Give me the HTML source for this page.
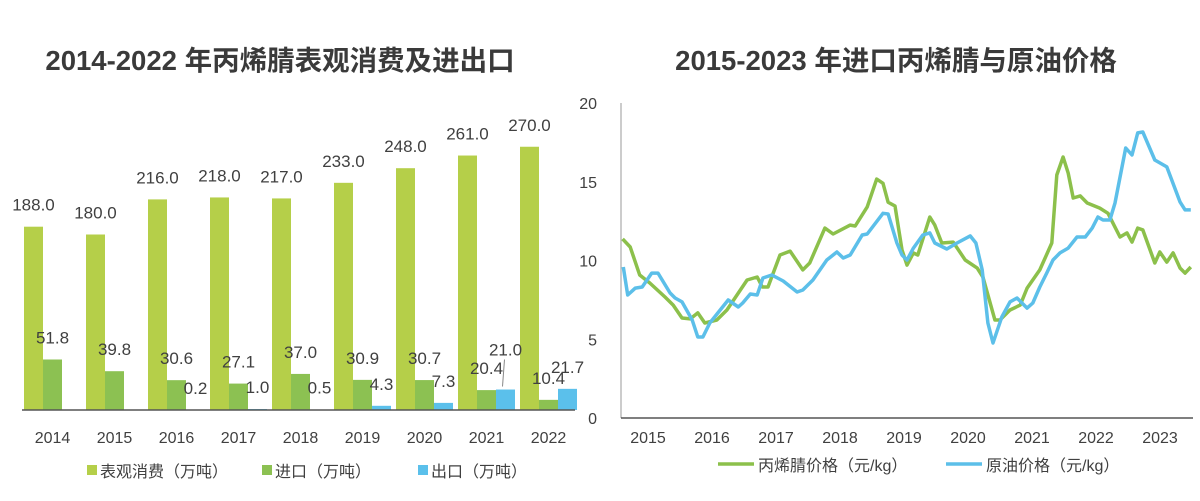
<!DOCTYPE html>
<html><head><meta charset="utf-8"><style>
body{margin:0;background:#fff;width:1200px;height:501px;overflow:hidden;font-family:"Liberation Sans","Noto Sans CJK SC",sans-serif;}
</style></head><body>
<svg id="chart" width="1200" height="501" style="position:absolute;left:0;top:0;font-family:'Liberation Sans','Noto Sans CJK SC',sans-serif">
<text x="280" y="70" text-anchor="middle" font-size="27.5" font-weight="bold" fill="#3a3a3a">2014-2022 年丙烯腈表观消费及进出口</text>
<text x="896" y="70" text-anchor="middle" font-size="27.5" font-weight="bold" fill="#3a3a3a">2015-2023 年进口丙烯腈与原油价格</text>
<g id="left"></g><g id="right"></g>
</svg>
<script>
const years = ['2014','2015','2016','2017','2018','2019','2020','2021','2022'];
const consumption = [188.0,180.0,216.0,218.0,217.0,233.0,248.0,261.0,270.0];
const imports = [51.8,39.8,30.6,27.1,37.0,30.9,30.7,20.4,10.4];
const exports_ = [null,null,0.2,1.0,0.5,4.3,7.3,21.0,21.7];
const greenT = [2015.01,2015.13,2015.28,2015.44,2015.68,2015.81,2015.95,2016.08,2016.20,2016.31,2016.50,2016.66,2016.82,2016.98,2017.14,2017.22,2017.31,2017.50,2017.66,2017.86,2017.97,2018.21,2018.34,2018.61,2018.69,2018.88,2019.03,2019.13,2019.21,2019.32,2019.43,2019.51,2019.61,2019.68,2019.87,2019.95,2020.06,2020.24,2020.43,2020.62,2020.71,2020.90,2020.98,2021.14,2021.30,2021.41,2021.61,2021.80,2021.88,2021.98,2022.06,2022.14,2022.25,2022.36,2022.56,2022.69,2022.88,2022.99,2023.07,2023.16,2023.24,2023.43,2023.51,2023.62,2023.72,2023.83,2023.91,2024.0];
const greenV = [11.37,10.86,9.08,8.57,7.68,7.17,6.35,6.29,6.67,6.03,6.22,6.86,7.81,8.76,8.95,8.32,8.32,10.35,10.6,9.4,9.84,12.06,11.68,12.25,12.19,13.4,15.17,14.9,13.7,13.46,10.67,9.71,10.48,10.35,12.76,12.25,11.11,11.17,10.03,9.52,8.95,6.22,6.22,6.86,7.17,8.25,9.4,11.11,15.43,16.57,15.55,13.97,14.1,13.65,13.33,13.0,11.49,11.75,11.17,12.06,11.94,9.84,10.54,9.9,10.48,9.52,9.2,9.59];
const blueT = [2015.02,2015.09,2015.21,2015.32,2015.47,2015.57,2015.76,2015.84,2015.95,2016.11,2016.20,2016.28,2016.39,2016.68,2016.84,2016.91,2017.03,2017.14,2017.23,2017.37,2017.55,2017.77,2017.86,2018.02,2018.24,2018.40,2018.50,2018.61,2018.80,2018.88,2019.13,2019.21,2019.35,2019.43,2019.51,2019.61,2019.76,2019.87,2019.95,2020.14,2020.30,2020.51,2020.60,2020.70,2020.79,2020.87,2021.01,2021.14,2021.25,2021.41,2021.50,2021.61,2021.72,2021.82,2021.93,2022.06,2022.20,2022.33,2022.44,2022.53,2022.61,2022.72,2022.80,2022.97,2023.07,2023.16,2023.24,2023.43,2023.62,2023.83,2023.91,2024.0];
const blueV = [9.59,7.81,8.25,8.32,9.2,9.2,7.94,7.62,7.37,6.22,5.14,5.14,6.03,7.49,7.05,7.3,7.87,7.81,8.89,9.08,8.7,8.0,8.13,8.76,10.03,10.54,10.16,10.35,11.62,11.68,13.0,12.95,11.11,10.35,10.03,10.79,11.62,11.75,11.11,10.73,11.11,11.56,11.11,9.4,6.03,4.76,6.41,7.37,7.62,6.98,7.3,8.32,9.2,10.03,10.48,10.79,11.49,11.49,12.06,12.76,12.57,12.57,13.65,17.14,16.7,18.1,18.16,16.38,15.94,13.71,13.21,13.21];
const yTicks = [0,5,10,15,20];
const xYears = ['2015','2016','2017','2018','2019','2020','2021','2022','2023'];

const NS='http://www.w3.org/2000/svg';
function mk(p,tag,attrs,txt){const e=document.createElementNS(NS,tag);for(const k in attrs)e.setAttribute(k,attrs[k]);if(txt!==undefined)e.textContent=txt;p.appendChild(e);return e;}
const L=document.getElementById('left'), R=document.getElementById('right');
const base=410, k=0.975, g0=24, step=62, bw=19;
const yB=v=>base-v*k;
const cols=['#b5cf49','#8cc152','#5bc0eb'];
const series=[consumption,imports,exports_];
const names=['consumption','import','export'];
series.forEach((arr,s)=>{arr.forEach((v,i)=>{
 if(v===null) return;
 const x=g0+i*step+s*bw;
 const r=mk(L,'rect',{x:x,y:yB(v),width:bw,height:v*k,fill:cols[s]});
 
 
 let ly=yB(v)-22;
 if(s===2 && i===7){ly=yB(v)-40; const ln=mk(L,'line',{x1:x+bw/2-3,y1:yB(v)-3,x2:x+bw/2-1,y2:ly+10,stroke:'#888','stroke-width':1});
  
  }
 const t=mk(L,'text',{x:x+bw/2,y:ly+6,'text-anchor':'middle','font-size':17,fill:'#404040'},v.toFixed(1));
 
 
});});
const ax=mk(L,'line',{x1:22,y1:base,x2:575,y2:base,stroke:'#555','stroke-width':1.5});


years.forEach((y,i)=>{const t=mk(L,'text',{x:g0+i*step+28.5,y:443,'text-anchor':'middle','font-size':16,fill:'#404040'},y);
 
 });
const legL=[['表观消费（万吨）',87],['进口（万吨）',262],['出口（万吨）',418]];
legL.forEach((l,i)=>{const g=mk(L,'g',{});
 
 
 mk(g,'rect',{x:l[1],y:465,width:10,height:10,fill:cols[i]});
 mk(g,'text',{x:l[1]+13,y:477,'font-size':16,fill:'#404040'},l[0]);});
const x0=622, pxYr=63.2, y0=418, ky=15.75;
const xs=t=>x0+(t-2015)*pxYr, ys=v=>y0-v*ky;
const yax=mk(R,'line',{x1:621,y1:103,x2:621,y2:y0,stroke:'#999','stroke-width':1});


const xax=mk(R,'line',{x1:621,y1:y0,x2:1193,y2:y0,stroke:'#555','stroke-width':1.5});


yTicks.forEach(v=>{const t=mk(R,'text',{x:597,y:ys(v)+6,'text-anchor':'end','font-size':16,fill:'#404040'},String(v));
 
 });
xYears.forEach((y,i)=>{const t=mk(R,'text',{x:648+64*i,y:443,'text-anchor':'middle','font-size':16,fill:'#404040'},y);
 
 });
function line(T,V,c,n){const p=mk(R,'polyline',{points:T.map((t,i)=>xs(t).toFixed(1)+','+ys(V[i]).toFixed(1)).join(' '),fill:'none',stroke:c,'stroke-width':3.5,'stroke-linejoin':'round'});
 
 }
line(greenT,greenV,'#8cc04b','acrylonitrile-price-line');
line(blueT,blueV,'#5cbfe9','crude-oil-price-line');
const legR=[['丙烯腈价格（元/kg）',718,'#8cc04b','legend-entry-acrylonitrile'],['原油价格（元/kg）',946,'#5cbfe9','legend-entry-crude-oil']];
legR.forEach(l=>{const g=mk(R,'g',{});
 
 
 mk(g,'line',{x1:l[1],y1:464,x2:l[1]+36,y2:464,stroke:l[2],'stroke-width':3.5});
 mk(g,'text',{x:l[1]+40,y:471,'font-size':16,fill:'#404040'},l[0]);});
</script>
</body></html>
